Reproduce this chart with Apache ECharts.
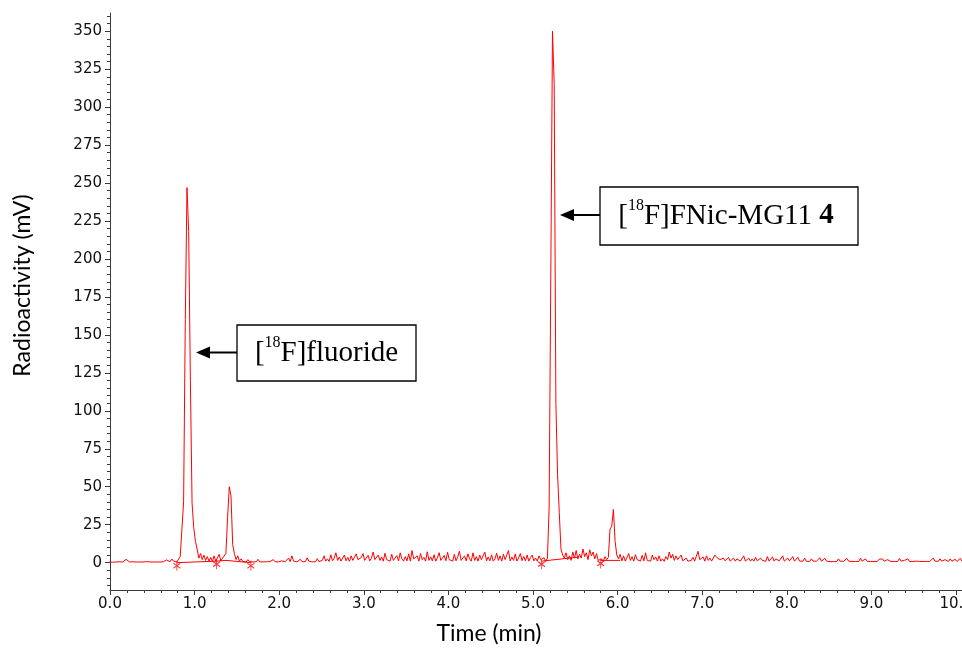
<!DOCTYPE html>
<html><head><meta charset="utf-8">
<script src="https://cdn.jsdelivr.net/npm/echarts@6/dist/echarts.min.js"></script>
<style>html,body{margin:0;padding:0;background:#fff}#c{width:962px;height:649px}</style>
</head><body><div id="c"></div>
<script>
// Detector sampling: first sample time and spacing (min)
const timeStart = -0.01;
const timeStep = 0.02;

// Radioactivity trace (mV), one row = 0.5 min
const signalMV = [
  0.3,0.4,0.3,0.5,0.4, 0.3,0.6,0.5,0.4,0.5, 2.2,1.0,0.5,0.4,0.6, 0.5,0.4,0.3,0.5,0.6, 0.4,0.5,0.7,0.4,0.5,
  0.6,0.4,1.2,0.5,0.7, 0.4,1.5,0.6,0.8,1.8, 0.9,0.6,2.4,1.0,0.7, 0.5,1.0,4,22,40, 160,247,218,120,39,
  23,14,9,3,6, 2,5,1.5,4,1, 3.5,0.8,4.5,1,2, 5.5,1.2,3,2,6, 30,50,44,12,6,
  2,4.5,1,2.5,0.8, 1.5,0.5,2,0.6,1.8, 0.5,0.8,0.6,2.2,0.5, 0.6,0.5,1.4,0.6,0.5, 0.7,0.5,2.0,0.6,0.8,
  0.5,0.6,1.2,0.5,0.6, 0.8,3.0,0.7,4.5,1.0, 0.6,0.5,0.8,2.2,0.6, 0.5,0.7,3.2,1.0,0.6, 0.5,0.8,0.6,2.6,0.7,
  0.6,1.5,4.5,1.0,2.5, 0.8,5.2,1.2,3.0,6.5, 1.5,3.8,1.0,2.0,5.0, 1.2,3.5,0.9,4.5,1.5, 1.0,5.8,2.0,1.2,3.4,
  6.0,1.5,1.0,4.8,1.2, 2.8,7.0,2.0,1.0,5.0, 1.5,3.8,1.0,6.2,2.0, 2.5,1.0,5.5,1.5,1.0, 4.6,1.2,6.5,2.5,1.0,
  4.0,1.2,5.8,1.0,8.0, 2.5,1.2,4.5,1.0,6.0, 2.0,3.5,1.0,7.2,1.5, 3.8,1.2,5.2,1.0,3.2, 6.6,1.5,1.0,4.8,1.3,
  6.8,2.0,2.8,1.0,5.5, 1.2,3.8,7.5,1.5,1.0, 4.5,1.2,5.8,2.5,1.0, 6.5,1.5,4.0,1.0,5.0, 2.0,3.2,7.0,1.2,3.8,
  1.2,5.2,1.0,2.5,6.2, 1.5,4.5,1.0,5.6,2.0, 2.8,8.0,1.2,3.8,1.5, 5.8,1.0,3.2,6.0,1.3, 4.0,1.2,5.0,1.0,3.5,
  5.0,1.2,3.0,1.0,4.5, 2.0,1.0,3.2,0.8,3, 36,190,350,315,105, 58,33,9,5,3.0, 6.5,2.0,4.5,1.5,7.0,
  3.0,8.0,2.5,5.5,3.0, 9.0,4.0,6.5,2.0,8.5, 4.5,7.0,2.5,6.0,1.5, 0.5,2.5,1.0,4.0,2.0, 3.5,22,24,35,14,
  5,2.5,5.5,1.2,4.5, 1.0,3.5,6.0,1.5,4.0, 1.0,5.2,2.0,3.2,1.0, 4.8,1.2,6.5,1.5,2.8, 1.0,5.0,2.0,3.8,1.0,
  4.5,1.0,2.5,0.9,4.0, 2.0,7.0,3.0,5.5,1.5, 4.5,2.0,1.0,5.0,1.2, 0.8,3.0,1.0,1.0,1.5, 3.5,1.0,1.2,7.5,2.0,
  1.2,3.8,1.0,4.5,1.5, 3.0,1.0,0.8,5.0,3.5, 2.5,2.0,1.0,3.0,1.2, 2.5,3.5,1.0,1.5,3.0, 1.0,2.5,3.2,1.0,2.0,
  4.5,1.0,1.2,3.0,1.0, 2.5,1.0,3.5,1.2,0.9, 3.0,1.5,2.5,0.9,4.0, 1.0,2.2,3.8,1.0,2.5, 3.5,1.2,1.0,4.5,1.0,
  1.0,3.0,1.2,2.0,4.0, 1.0,0.9,3.5,1.0,0.8, 1.0,3.0,0.9,1.0,0.8, 2.5,1.0,2.0,1.0,0.9, 3.2,1.0,0.8,2.8,1.0,
  0.8,0.7,0.8,0.7,0.7, 0.8,2.5,1.0,2.2,0.9, 0.8,2.8,1.0,0.9,0.8, 0.7,0.8,0.7,0.8,3.0, 1.0,1.2,2.5,0.9,2.0,
  0.8,0.7,0.8,0.7,0.8, 2.2,0.9,2.5,1.0,0.8, 2.0,0.9,0.8,0.7,0.8, 0.7,0.8,2.8,1.0,2.0, 1.5,0.9,2.5,0.8,1.0,
  0.8,2.0,1.0,0.9,0.8, 0.7,0.8,0.7,0.8,0.7, 0.8,0.8,3.0,1.0,2.2, 0.9,2.5,1.0,0.8,2.0, 0.9,0.8,2.5,1.0,0.8,
  2.2,0.8,1.0,2.8,0.9
];

// Integration baselines (time min, mV); '-' breaks the line
const baselineSegments = [
  [0.79,0],[1.26,1.0],[1.37,1.5],[1.665,0],['-','-'],
  [5.10,1.0],[5.54,3.7],['-','-'],
  [5.80,1.5],[6.03,1.5]
];
// Peak start/end markers
const markerPoints = [[0.79,0],[1.26,1.0],[1.665,0],[5.10,1.0],[5.80,1.5]];

// Axes
const xRange = [0, 10.07];
const yRange = [-18, 362];
const xTickValues = [0,1,2,3,4,5,6,7,8,9,10];
const yTickValues = [0,25,50,75,100,125,150,175,200,225,250,275,300,325,350];
const xMinorStep = 0.2;
const yMinorStep = 5;

// Peak annotations
const annotationLabels = ['{n|[}{sup|18}{n|F]fluoride}', '{n|[}{sup|18}{n|F]FNic-MG11 }{b|4}'];

const xMinor = [];
for (let v = xMinorStep; v <= 10.001; v += xMinorStep) xMinor.push(+v.toFixed(1));
const yMinor = [];
for (let v = -15; v <= 360; v += yMinorStep) yMinor.push(v);

const traceData = signalMV.map((v, i) => [+(timeStart + i * timeStep).toFixed(2), v]);

const axisColor = '#3a3a3a';
const chart = echarts.init(document.getElementById('c'), null, {renderer: 'canvas'});

const richStyle = {
  n: {fontFamily: 'Liberation Serif', fontSize: 29, lineHeight: 36, verticalAlign: 'middle', color: '#000'},
  sup: {fontFamily: 'Liberation Serif', fontSize: 16, lineHeight: 28, verticalAlign: 'top', color: '#000'},
  b: {fontFamily: 'Liberation Serif', fontSize: 29, lineHeight: 36, fontWeight: 'bold', verticalAlign: 'middle', color: '#000'}
};

function arrow(x1, y, tipX) {
  return [
    {type: 'line', shape: {x1: x1, y1: y, x2: tipX + 12, y2: y}, style: {stroke: '#000', lineWidth: 2}},
    {type: 'polygon', shape: {points: [[tipX, y], [tipX + 14, y - 6], [tipX + 14, y + 6]]}, style: {fill: '#000'}}
  ];
}

const option = {
  animation: false,
  backgroundColor: '#fff',
  grid: {left: 110, right: 0, top: 13, bottom: 59, containLabel: false, outerBoundsMode: 'none'},
  xAxis: [
    {
      type: 'value', min: xRange[0], max: xRange[1], position: 'bottom',
      name: 'Time (min)', nameLocation: 'middle', nameGap: 32,
      nameTextStyle: {fontFamily: 'Lato', fontSize: 23, color: '#000', padding: [0, 94, 0, 0]},
      axisLine: {show: true, onZero: false, lineStyle: {color: axisColor, width: 1}},
      axisTick: {show: true, length: 5, customValues: xTickValues, lineStyle: {color: axisColor}},
      axisLabel: {customValues: xTickValues, formatter: v => v.toFixed(1), margin: 7,
        fontFamily: 'DejaVu Sans', fontSize: 15, color: '#111'},
      splitLine: {show: false}
    },
    {
      type: 'value', min: xRange[0], max: xRange[1], position: 'bottom',
      axisLine: {show: false, onZero: false},
      axisTick: {show: true, length: 3, customValues: xMinor, lineStyle: {color: axisColor}},
      axisLabel: {show: false}, splitLine: {show: false}
    }
  ],
  yAxis: [
    {
      type: 'value', min: yRange[0], max: yRange[1], position: 'left',
      name: 'Radioactivity (mV)', nameLocation: 'middle', nameGap: 76,
      nameTextStyle: {fontFamily: 'Lato', fontSize: 23, color: '#000', padding: [0, 0, 0, 32]},
      axisLine: {show: true, onZero: false, lineStyle: {color: axisColor, width: 1}},
      axisTick: {show: true, length: 5, customValues: yTickValues, lineStyle: {color: axisColor}},
      axisLabel: {customValues: yTickValues, margin: 8, fontFamily: 'DejaVu Sans', fontSize: 15, color: '#111'},
      splitLine: {show: false}
    },
    {
      type: 'value', min: yRange[0], max: yRange[1], position: 'left',
      axisLine: {show: false, onZero: false},
      axisTick: {show: true, length: 3, customValues: yMinor, lineStyle: {color: axisColor}},
      axisLabel: {show: false}, splitLine: {show: false}
    }
  ],
  series: [
    {
      type: 'line', xAxisIndex: 0, yAxisIndex: 0, data: traceData,
      showSymbol: false, symbol: 'none', lineStyle: {color: '#ff0000', width: 1}, silent: true
    },
    {
      type: 'line', xAxisIndex: 0, yAxisIndex: 0, data: baselineSegments,
      showSymbol: false, symbol: 'none', connectNulls: false, lineStyle: {color: '#ff0000', width: 1}, silent: true
    },
    {
      type: 'scatter', xAxisIndex: 0, yAxisIndex: 0, data: markerPoints,
      symbol: 'path://M5 0 L5 12 M0 3 L10 9 M0 9 L10 3', symbolSize: [7, 10], symbolOffset: [0, 3],
      itemStyle: {color: 'rgba(0,0,0,0)', borderColor: '#ff0000', borderWidth: 1}, silent: true
    }
  ],
  graphic: [
    {type: 'rect', shape: {x: 237, y: 325, width: 179, height: 56}, style: {fill: '#fff', stroke: '#000', lineWidth: 1.3}},
    {type: 'text', x: 326.5, y: 353, style: {text: annotationLabels[0], rich: richStyle, align: 'center', verticalAlign: 'middle'}},
    ...arrow(237, 352.5, 196),
    {type: 'rect', shape: {x: 600, y: 187, width: 258, height: 58}, style: {fill: '#fff', stroke: '#000', lineWidth: 1.3}},
    {type: 'text', x: 726, y: 216, style: {text: annotationLabels[1], rich: richStyle, align: 'center', verticalAlign: 'middle'}},
    ...arrow(600, 215, 560)
  ]
};
chart.setOption(option);
</script></body></html>
